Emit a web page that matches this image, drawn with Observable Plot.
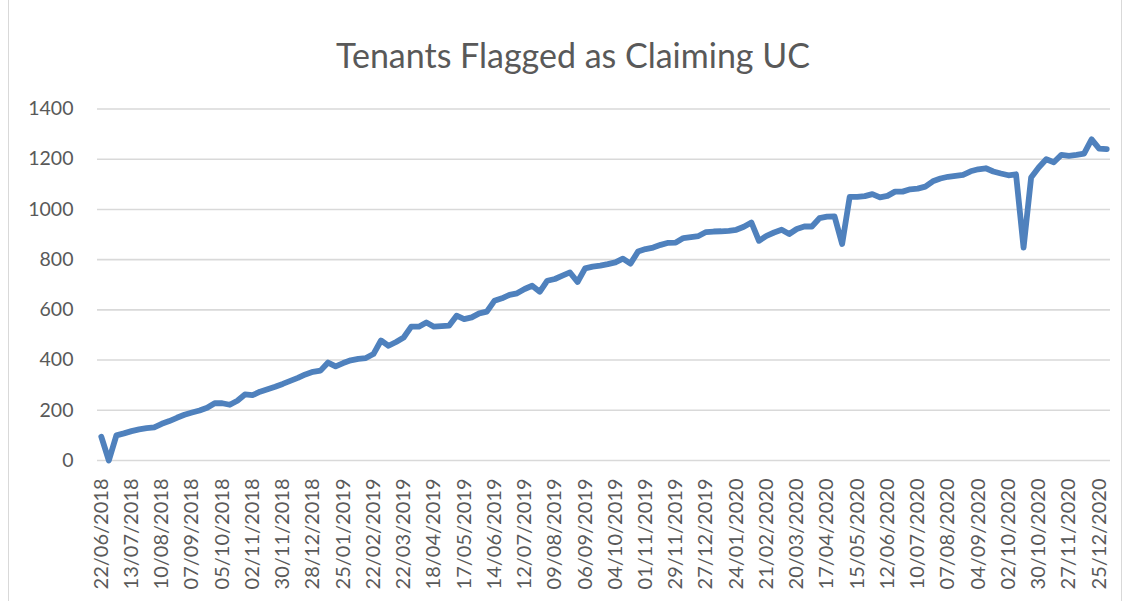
<!DOCTYPE html>
<html>
<head>
<meta charset="utf-8">
<script src="https://cdn.jsdelivr.net/npm/d3@7"></script>
<script src="https://cdn.jsdelivr.net/npm/@observablehq/plot@0.6"></script>
<style>
  html, body { margin: 0; padding: 0; background: #ffffff; }
  #chart { position: relative; width: 1126px; height: 601px; overflow: hidden; font-family: Lato, "Open Sans", sans-serif; }
  #frame { position: absolute; left: 8px; top: -2px; width: 1114px; height: 606px; border: 1px solid #d9d9d9; box-sizing: border-box; }
  #title { position: absolute; left: 10px; top: 38px; width: 1126px; text-align: center; font-size: 34px; line-height: 1; color: #595959; white-space: nowrap; }
  #plot { position: absolute; left: 0; top: 90px; }
</style>
</head>
<body>
<div id="chart">
  <div id="frame"></div>
  <div id="title">Tenants Flagged as Claiming UC</div>
  <div id="plot"></div>
</div>
<script>
const chartTitle = "Tenants Flagged as Claiming UC";

const tickLabels = [
  "22/06/2018","13/07/2018","10/08/2018","07/09/2018","05/10/2018","02/11/2018",
  "30/11/2018","28/12/2018","25/01/2019","22/02/2019","22/03/2019","18/04/2019",
  "17/05/2019","14/06/2019","12/07/2019","09/08/2019","06/09/2019","04/10/2019",
  "01/11/2019","29/11/2019","27/12/2019","24/01/2020","21/02/2020","20/03/2020",
  "17/04/2020","15/05/2020","12/06/2020","10/07/2020","07/08/2020","04/09/2020",
  "02/10/2020","30/10/2020","27/11/2020","25/12/2020"
];
const labelEvery = 4;

const tenants = [
  95, 0, 100, 108, 117, 124, 129, 132, 146, 157,
  170, 182, 191, 199, 210, 228, 228, 222, 238, 263,
  260, 274, 284, 294, 305, 317, 329, 343, 353, 358,
  390, 375, 388, 399, 405, 408, 424, 478, 457, 472,
  490, 533, 533, 550, 533, 535, 537, 577, 563, 570,
  586, 593, 636, 646, 660, 666, 683, 696, 672, 716,
  723, 736, 749, 711, 765, 772, 776, 782, 789, 804,
  784, 832, 842, 848, 859, 867, 868, 886, 890, 894,
  910, 912, 913, 915, 919, 931, 948, 875, 895, 908,
  919, 902, 922, 932, 932, 965, 971, 972, 862, 1050,
  1050, 1053, 1061, 1048, 1054, 1071, 1071, 1080, 1083, 1091,
  1112, 1123, 1130, 1134, 1138, 1152, 1160, 1164, 1151, 1143,
  1136, 1140, 848, 1127, 1167, 1200, 1188, 1217, 1213, 1217,
  1222, 1279, 1242, 1240
];

const yTicks = [0, 200, 400, 600, 800, 1000, 1200, 1400];

const data = tenants.map((v, i) => ({ i, v }));
const xTicks = tickLabels.map((_, k) => k * labelEvery);

document.getElementById("title").textContent = chartTitle;

const plot = Plot.plot({
  width: 1126,
  height: 511,
  marginLeft: 97,
  marginRight: 16,
  marginTop: 18.5,
  marginBottom: 141,
  x: { type: "linear", domain: [-0.5, tenants.length - 0.5], axis: null, label: null },
  y: { domain: [0, 1400], axis: null, label: null },
  style: { fontFamily: "Lato, 'Open Sans', sans-serif", color: "#595959", background: "transparent", overflow: "visible" },
  marks: [
    Plot.ruleY(yTicks, { stroke: "#d9d9d9", strokeWidth: 1.6 }),
    Plot.axisY(yTicks, { label: null, tickSize: 0, tickPadding: 24, fontSize: 19.5, fill: "#595959", tickFormat: d => String(d) }),
    Plot.axisX(xTicks, { label: null, tickSize: 0, tickRotate: -90, tickPadding: 18, fontSize: 20, fill: "#595959", tickFormat: i => tickLabels[i / labelEvery] }),
    Plot.line(data, { x: "i", y: "v", stroke: "#4f81bd", strokeWidth: 5.8, strokeLinejoin: "round", strokeLinecap: "round" })
  ]
});
document.getElementById("plot").appendChild(plot);
</script>
</body>
</html>
